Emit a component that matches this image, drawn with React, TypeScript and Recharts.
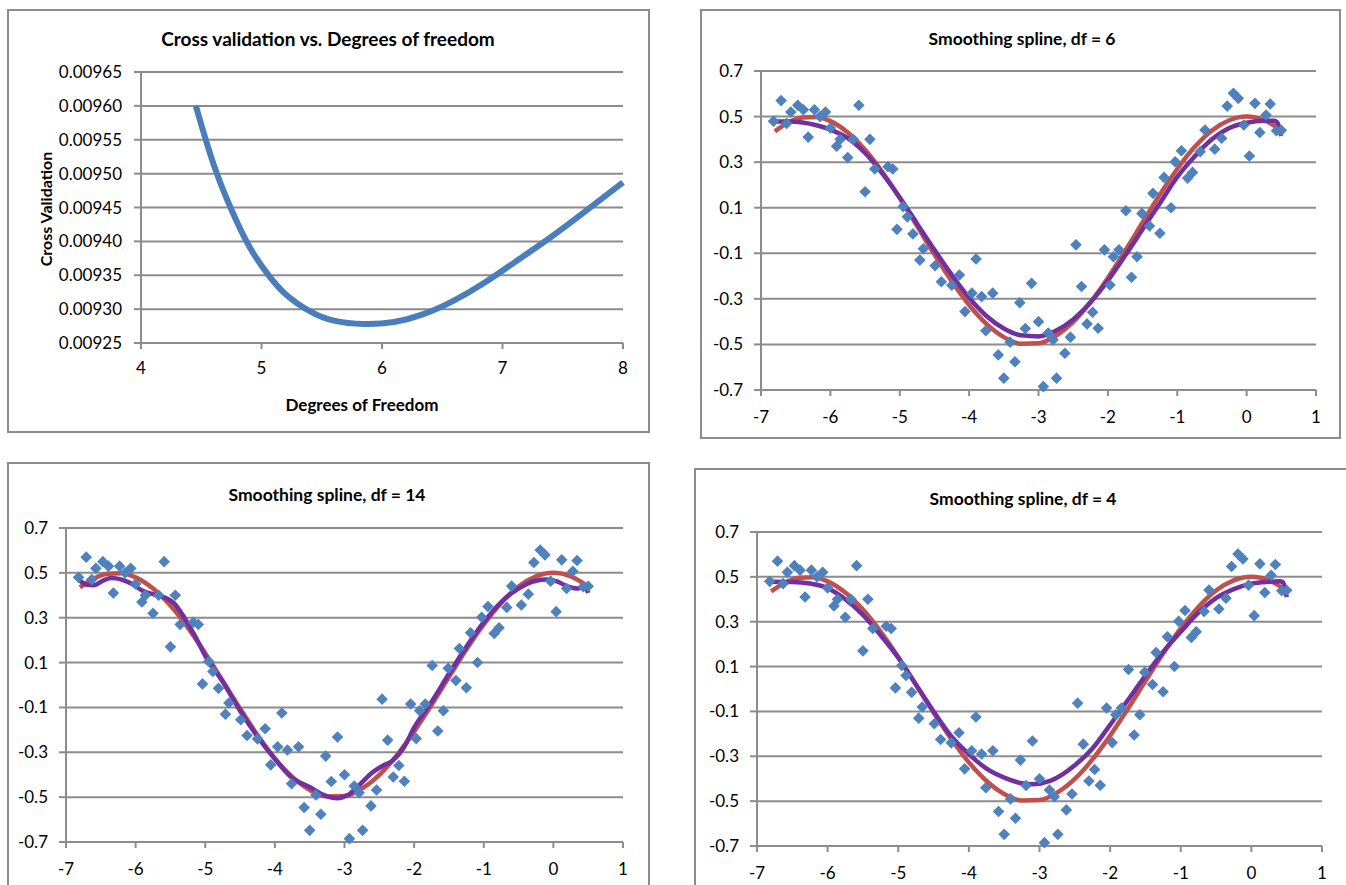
import React from "react";
import { CartesianGrid, ComposedChart, Line, Scatter, XAxis, YAxis } from "recharts";

// cross-validation score against degrees of freedom
const cvDf = [4.455, 4.6, 4.75, 4.9, 5.05, 5.2, 5.4, 5.6, 5.85, 6.1, 6.35, 6.6, 6.85, 7.1, 7.4, 7.7, 8.0];
const cvScore = [
  0.0096, 0.009515, 0.009447, 0.009392, 0.009352, 0.009322, 0.009297, 0.009283, 0.009278, 0.009281, 0.009293,
  0.009313, 0.009339, 0.009369, 0.009406, 0.009446, 0.009487,
];
const cvXTicks = [4, 5, 6, 7, 8];
const cvYTicks = [0.00925, 0.0093, 0.00935, 0.0094, 0.00945, 0.0095, 0.00955, 0.0096, 0.00965];

// observed sample
const obsX = [
  -6.82, -6.71, -6.63, -6.57, -6.47, -6.39, -6.32, -6.23, -6.15, -6.07, -6.0, -5.91, -5.86, -5.75, -5.67, -5.59,
  -5.5, -5.43, -5.36, -5.17, -5.1, -5.04, -4.95, -4.89, -4.81, -4.71, -4.66, -4.49, -4.4, -4.25, -4.14, -4.06,
  -3.96, -3.9, -3.82, -3.76, -3.66, -3.58, -3.5, -3.41, -3.34, -3.27, -3.19, -3.1, -3.0, -2.93, -2.86, -2.79,
  -2.74, -2.62, -2.54, -2.46, -2.38, -2.3, -2.22, -2.14, -2.05, -1.97, -1.92, -1.84, -1.74, -1.66, -1.58, -1.51,
  -1.4, -1.35, -1.25, -1.19, -1.09, -1.03, -0.94, -0.85, -0.78, -0.67, -0.6, -0.46, -0.36, -0.28, -0.19, -0.12,
  -0.04, 0.04, 0.12, 0.19, 0.28, 0.34, 0.43, 0.5,
];
const obsY = [
  0.48, 0.57, 0.47, 0.52, 0.55, 0.53, 0.41, 0.53, 0.5, 0.52, 0.45, 0.37, 0.4, 0.32, 0.4, 0.55, 0.17, 0.4, 0.27,
  0.28, 0.27, 0.005, 0.105, 0.06, -0.015, -0.13, -0.08, -0.155, -0.225, -0.24, -0.195, -0.356, -0.275, -0.125,
  -0.29, -0.44, -0.275, -0.546, -0.648, -0.49, -0.576, -0.317, -0.43, -0.232, -0.4, -0.685, -0.45, -0.48, -0.648,
  -0.539, -0.468, -0.063, -0.246, -0.41, -0.359, -0.429, -0.085, -0.239, -0.115, -0.085, 0.087, -0.205, -0.115,
  0.075, 0.02, 0.163, -0.012, 0.233, 0.1, 0.302, 0.35, 0.23, 0.255, 0.346, 0.441, 0.357, 0.405, 0.546, 0.602,
  0.58, 0.463, 0.327, 0.558, 0.43, 0.507, 0.555, 0.438, 0.44,
];

// underlying curve (red)
const trueX = [
  -6.8, -6.6, -6.4, -6.2, -6.0, -5.75, -5.5, -5.25, -5.0, -4.75, -4.5, -4.25, -4.0, -3.75, -3.5, -3.25, -3.0,
  -2.75, -2.5, -2.25, -2.0, -1.75, -1.5, -1.25, -1.0, -0.75, -0.5, -0.25, 0, 0.25, 0.5,
];
const trueY = [
  0.435, 0.475, 0.496, 0.498, 0.48, 0.43, 0.354, 0.256, 0.142, 0.019, -0.105, -0.223, -0.327, -0.41, -0.468,
  -0.497, -0.495, -0.462, -0.401, -0.314, -0.208, -0.089, 0.035, 0.158, 0.27, 0.366, 0.439, 0.484, 0.5, 0.484,
  0.439,
];

// spline fits (purple)
const df6X = [
  -6.8, -6.6, -6.4, -6.2, -6.0, -5.75, -5.5, -5.25, -5.0, -4.75, -4.5, -4.25, -4.0, -3.75, -3.5, -3.25, -3.0,
  -2.75, -2.5, -2.25, -2.0, -1.75, -1.5, -1.25, -1.0, -0.75, -0.5, -0.25, 0, 0.25, 0.4, 0.45, 0.5,
];
const df6Y = [
  0.478, 0.478, 0.474, 0.462, 0.443, 0.405, 0.34, 0.25, 0.145, 0.03, -0.085, -0.195, -0.295, -0.375, -0.43, -0.46,
  -0.465, -0.44, -0.39, -0.315, -0.22, -0.11, 0.005, 0.12, 0.235, 0.325, 0.4, 0.45, 0.473, 0.482, 0.482, 0.47, 0.415,
];
const df14X = [
  -6.8, -6.7, -6.6, -6.5, -6.35, -6.2, -6.05, -5.9, -5.75, -5.6, -5.45, -5.3, -5.15, -5.0, -4.75, -4.5, -4.25,
  -4.0, -3.75, -3.5, -3.3, -3.1, -2.95, -2.8, -2.6, -2.45, -2.3, -2.15, -2.0, -1.75, -1.5, -1.25, -1.0, -0.75,
  -0.5, -0.25, -0.1, 0.05, 0.2, 0.35, 0.45, 0.5,
];
const df14Y = [
  0.466, 0.447, 0.445, 0.46, 0.477, 0.47, 0.45, 0.42, 0.405, 0.392, 0.365, 0.3, 0.22, 0.13, 0.015, -0.115, -0.23,
  -0.33, -0.415, -0.455, -0.49, -0.505, -0.49, -0.45, -0.39, -0.36, -0.335, -0.28, -0.19, -0.075, 0.05, 0.17, 0.28,
  0.37, 0.43, 0.465, 0.47, 0.462, 0.44, 0.43, 0.44, 0.41,
];
const df4X = [
  -6.8, -6.5, -6.25, -6.0, -5.75, -5.5, -5.25, -5.0, -4.75, -4.5, -4.25, -4.0, -3.75, -3.5, -3.25, -3.1, -2.85,
  -2.5, -2.25, -2.0, -1.75, -1.5, -1.25, -1.0, -0.75, -0.5, -0.25, 0, 0.25, 0.4, 0.45, 0.5,
];
const df4Y = [
  0.478, 0.477, 0.47, 0.45, 0.4, 0.33, 0.24, 0.14, 0.02, -0.1, -0.21, -0.29, -0.355, -0.395, -0.42, -0.425, -0.41,
  -0.34, -0.265, -0.16, -0.05, 0.06, 0.165, 0.255, 0.34, 0.405, 0.445, 0.47, 0.478, 0.48, 0.475, 0.41,
];

const xTicks = [-7, -6, -5, -4, -3, -2, -1, 0, 1];
const yTicks = [-0.7, -0.5, -0.3, -0.1, 0.1, 0.3, 0.5, 0.7];

const pairs = (xs: number[], ys: number[]) => xs.map((x, i) => ({ x, y: ys[i] }));

const GRAY = "#8c8c8c";
const FONT = "Lato, 'Liberation Sans', sans-serif";
const tickStyle = { fill: "#000", fontSize: 17, fontFamily: FONT };

type Box = { left: number; top: number; width: number; height: number };
type Plot = { x0: number; y0: number; x1: number; y1: number };

const Diamond = (props: any) => {
  const { cx, cy } = props;
  const r = 5.8;
  return <path d={`M${cx},${cy - r}L${cx + r},${cy}L${cx},${cy + r}L${cx - r},${cy}Z`} fill="#4F81BD" />;
};

function Frame({ box }: { box: Box }) {
  return (
    <div
      style={{
        position: "absolute",
        left: box.left,
        top: box.top,
        width: box.width,
        height: box.height,
        border: `2px solid ${GRAY}`,
        boxSizing: "border-box",
      }}
    />
  );
}

function Caption({ text, x, y, size, rotate }: { text: string; x: number; y: number; size: number; rotate?: boolean }) {
  return (
    <div
      style={{
        position: "absolute",
        left: x,
        top: y,
        transform: `translate(-50%, -50%)${rotate ? " rotate(-90deg)" : ""}`,
        whiteSpace: "nowrap",
        fontFamily: FONT,
        fontWeight: 700,
        fontSize: size,
        color: "#000",
      }}
    >
      {text}
    </div>
  );
}

const chartPos = (box: Box, plot: Plot, w: number, h: number, xAxisH: number) => ({
  style: { position: "absolute" as const, left: box.left, top: box.top },
  margin: { top: plot.y0 - box.top, right: box.left + w - plot.x1, bottom: box.top + h - plot.y1 - xAxisH, left: 0 },
  yWidth: plot.x0 - box.left,
});

function SplinePanel({ box, plot, chartH, chartW, title, titleX, titleY, fit }: any) {
  const pos = chartPos(box, plot, chartW, chartH, 36);
  const obs = pairs(obsX, obsY);
  const truth = pairs(trueX, trueY);
  return (
    <>
      <Frame box={box} />
      <Caption text={title} x={titleX} y={titleY} size={17.5} />
      <div style={pos.style}>
        <ComposedChart width={chartW} height={chartH} margin={pos.margin}>
          <CartesianGrid vertical={false} stroke={GRAY} strokeWidth={2} />
          <XAxis
            type="number"
            dataKey="x"
            domain={[-7, 1]}
            ticks={xTicks}
            interval={0}
            height={36}
            tick={tickStyle}
            tickSize={6}
            tickMargin={15}
            axisLine={{ stroke: GRAY, strokeWidth: 2 }}
            tickLine={{ stroke: GRAY, strokeWidth: 2 }}
          />
          <YAxis
            type="number"
            dataKey="y"
            domain={[-0.7, 0.7]}
            ticks={yTicks}
            interval={0}
            width={pos.yWidth}
            tick={tickStyle}
            tickSize={7}
            tickMargin={11}
            tickFormatter={(v: number) => v.toFixed(1)}
            axisLine={{ stroke: GRAY, strokeWidth: 2 }}
            tickLine={{ stroke: GRAY, strokeWidth: 2 }}
          />
          <Scatter data={obs} dataKey="y" shape={Diamond} isAnimationActive={false} />
          <Line data={truth} dataKey="y" type="monotone" stroke="#C0504D" strokeWidth={4.5} dot={false} isAnimationActive={false} />
          <Line data={fit} dataKey="y" type="monotone" stroke="#7030A0" strokeWidth={4.5} dot={false} isAnimationActive={false} />
        </ComposedChart>
      </div>
    </>
  );
}

function CvPanel() {
  const box = { left: 7, top: 9, width: 643, height: 424 };
  const plot = { x0: 141, y0: 72, x1: 623, y1: 343 };
  const pos = chartPos(box, plot, box.width, box.height, 36);
  const cv = pairs(cvDf, cvScore);
  return (
    <>
      <Frame box={box} />
      <Caption text="Cross validation vs. Degrees of freedom" x={328} y={38} size={19} />
      <Caption text="Cross Validation" x={45} y={209} size={16} rotate />
      <Caption text="Degrees of Freedom" x={362} y={404} size={17} />
      <div style={pos.style}>
        <ComposedChart width={box.width} height={box.height} margin={pos.margin}>
          <CartesianGrid vertical={false} stroke={GRAY} strokeWidth={2} />
          <XAxis
            type="number"
            dataKey="x"
            domain={[4, 8]}
            ticks={cvXTicks}
            interval={0}
            height={36}
            tick={tickStyle}
            tickSize={6}
            tickMargin={13}
            axisLine={{ stroke: GRAY, strokeWidth: 2 }}
            tickLine={{ stroke: GRAY, strokeWidth: 2 }}
          />
          <YAxis
            type="number"
            dataKey="y"
            domain={[0.00925, 0.00965]}
            ticks={cvYTicks}
            interval={0}
            width={pos.yWidth}
            tick={tickStyle}
            tickSize={7}
            tickMargin={12}
            tickFormatter={(v: number) => v.toFixed(5)}
            axisLine={{ stroke: GRAY, strokeWidth: 2 }}
            tickLine={{ stroke: GRAY, strokeWidth: 2 }}
          />
          <Line data={cv} dataKey="y" type="natural" stroke="#4A7EBB" strokeWidth={6} dot={false} isAnimationActive={false} />
        </ComposedChart>
      </div>
    </>
  );
}

export default function App() {
  return (
    <div
      style={{
        position: "absolute",
        left: 0,
        top: 0,
        width: 1346,
        height: 885,
        overflow: "hidden",
        background: "#fff",
      }}
    >
      <CvPanel />
      <SplinePanel
        box={{ left: 700, top: 9, width: 641, height: 430 }}
        plot={{ x0: 761, y0: 71, x1: 1316, y1: 390 }}
        chartW={641}
        chartH={430}
        title="Smoothing spline, df = 6"
        titleX={1022}
        titleY={38}
        fit={pairs(df6X, df6Y)}
      />
      <SplinePanel
        box={{ left: 7, top: 462, width: 643, height: 440 }}
        plot={{ x0: 66, y0: 528, x1: 623, y1: 842 }}
        chartW={643}
        chartH={423}
        title="Smoothing spline, df = 14"
        titleX={327}
        titleY={494}
        fit={pairs(df14X, df14Y)}
      />
      <SplinePanel
        box={{ left: 694, top: 468, width: 670, height: 440 }}
        plot={{ x0: 757, y0: 532, x1: 1322, y1: 846 }}
        chartW={652}
        chartH={417}
        title="Smoothing spline, df = 4"
        titleX={1023}
        titleY={498}
        fit={pairs(df4X, df4Y)}
      />
    </div>
  );
}
